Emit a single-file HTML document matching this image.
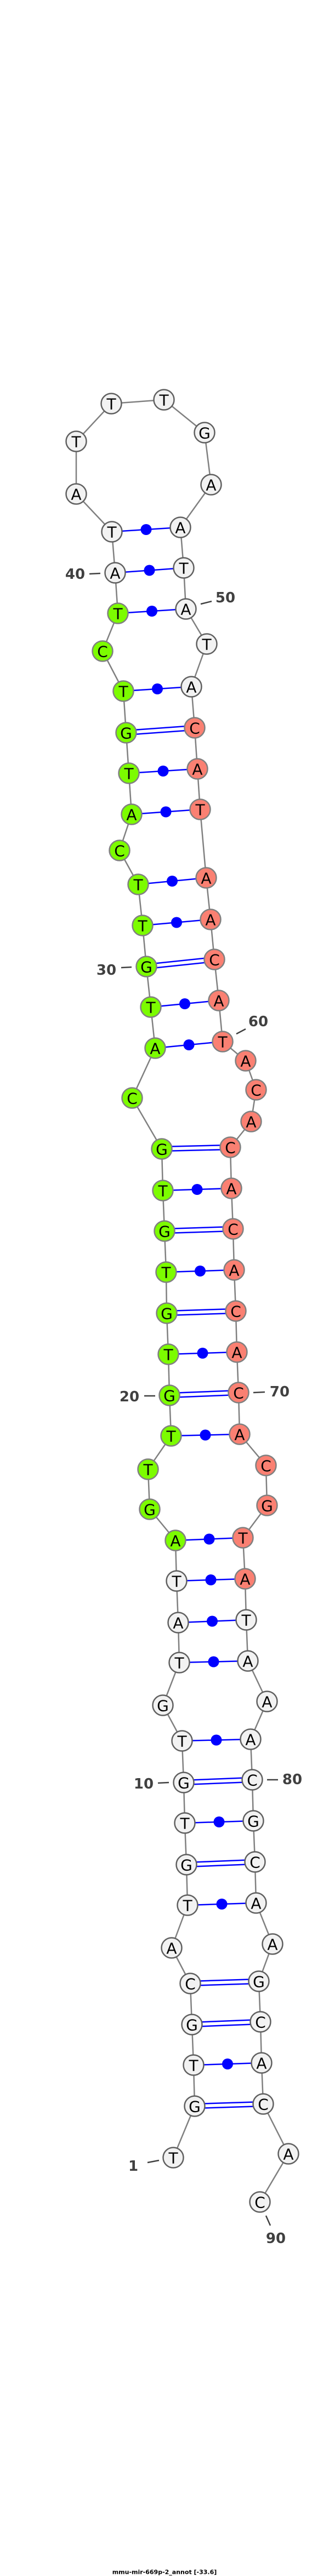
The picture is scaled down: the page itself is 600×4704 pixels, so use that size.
<!DOCTYPE html>
<html><head><meta charset="utf-8"><style>
html,body{margin:0;padding:0;background:#fff}
svg{display:block}
.n{font-family:"DejaVu Sans","Liberation Sans",sans-serif;font-size:28px;text-anchor:middle;dominant-baseline:central}
.l{font-family:"DejaVu Sans","Liberation Sans",sans-serif;font-size:26px;font-weight:bold;fill:#404040;text-anchor:middle;dominant-baseline:central}
</style></head><body>
<svg id="s" width="600" height="4704" xmlns="http://www.w3.org/2000/svg">
<g id="bb" stroke="#808080" stroke-width="2.5" fill="none"></g>
<g id="pr"></g>
<g id="nd"></g>
<g stroke="#404040" stroke-width="2.5">
<line x1="269" y1="3949" x2="290" y2="3945"/>
<line x1="288" y1="3256" x2="308" y2="3255"/>
<line x1="263" y1="2549" x2="283" y2="2549"/>
<line x1="221" y1="1767" x2="240" y2="1766"/>
<line x1="163" y1="1048" x2="183" y2="1047"/>
<line x1="366" y1="1103" x2="386" y2="1098"/>
<line x1="431" y1="1888" x2="448" y2="1879"/>
<line x1="462" y1="2543" x2="483" y2="2542"/>
<line x1="487" y1="3250" x2="507" y2="3250"/>
<line x1="485" y1="4046" x2="493" y2="4064"/>
</g>
<text class="l" x="243" y="3956">1</text>
<text class="l" x="262" y="3258">10</text>
<text class="l" x="236" y="2551">20</text>
<text class="l" x="194" y="1772">30</text>
<text class="l" x="137" y="1049">40</text>
<text class="l" x="411" y="1092">50</text>
<text class="l" x="471" y="1866">60</text>
<text class="l" x="510" y="2542">70</text>
<text class="l" x="533" y="3250">80</text>
<text class="l" x="503" y="4088">90</text>
<text x="300" y="4697" style="font-family:'DejaVu Sans','Liberation Sans',sans-serif;font-size:11px;font-weight:bold;text-anchor:middle;dominant-baseline:central">mmu-mir-669p-2_annot [-33.6]</text>
</svg>
<script>
var P=[null,[316,3940,'T'],[355,3846,'G'],[353,3771,'T'],[350,3697,'G'],[347,3622,'C'],[313,3557,'A'],[342,3479,'T'],[340,3405,'G'],[337,3329,'T'],[335,3255,'G'],
[332,3179,'T'],[297,3114,'G'],[327,3036,'T'],[325,2963,'A'],[322,2887,'T'],[320,2813,'A'],[273,2756,'G'],[270,2683,'T'],[312,2622,'T'],[309,2548,'G'],
[307,2473,'T'],[304,2398,'G'],[303,2323,'T'],[300,2248,'G'],[297,2174,'T'],[295,2098,'G'],[241,2005,'C'],[283,1914,'A'],[275,1839,'T'],[267,1765,'G'],
[260,1690,'T'],[252,1615,'T'],[218,1553,'C'],[240,1487,'A'],[235,1412,'T'],[230,1338,'G'],[225,1262,'T'],[187,1189,'C'],[215,1120,'T'],[210,1046,'A'],
[204,971,'T'],[139,902,'A'],[139,806,'T'],[203,737,'T'],[299,730,'T'],[373,790,'G'],[385,885,'A'],[329,963,'A'],[335,1037,'T'],[339,1112,'A'],
[377,1176,'T'],[349,1254,'A'],[355,1329,'C'],[360,1404,'A'],[365,1478,'T'],[376,1603,'A'],[384,1679,'A'],[391,1752,'C'],[399,1827,'A'],[406,1902,'T'],
[448,1937,'A'],[467,1990,'C'],[458,2048,'A'],[420,2095,'C'],[422,2170,'A'],[425,2244,'C'],[427,2319,'A'],[430,2394,'C'],[432,2469,'A'],[435,2543,'C'],
[437,2619,'A'],[485,2676,'C'],[487,2749,'G'],[443,2808,'T'],[447,2883,'A'],[449,2958,'T'],[452,3033,'A'],[487,3107,'A'],[457,3176,'A'],[460,3250,'C'],
[462,3325,'G'],[465,3400,'C'],[467,3475,'A'],[497,3550,'A'],[472,3618,'G'],[475,3692,'C'],[477,3767,'A'],[480,3842,'C'],[526,3933,'A'],[474,4021,'C']];
var pairs=[[41,48],[40,49],[39,50],[37,52],[36,53],[35,54],[34,55],[32,56],[31,57],[30,58],[29,59],[28,60],[26,64],[25,65],[24,66],[23,67],[22,68],[21,69],[20,70],[19,71],[16,74],[15,75],[14,76],[13,77],[11,79],[10,80],[9,81],[8,82],[7,83],[5,85],[4,86],[3,87],[2,88]];
var NS='http://www.w3.org/2000/svg';
function el(t,a,p){var e=document.createElementNS(NS,t);for(var k in a)e.setAttribute(k,a[k]);p.appendChild(e);return e;}
var bb=document.getElementById('bb'),pr=document.getElementById('pr'),nd=document.getElementById('nd');
for(var i=1;i<90;i++)el('line',{x1:P[i][0],y1:P[i][1],x2:P[i+1][0],y2:P[i+1][1]},bb);
pairs.forEach(function(p){var a=P[p[0]],b=P[p[1]];var gc=(a[2]=='G'&&b[2]=='C')||(a[2]=='C'&&b[2]=='G');
 if(gc){var dx=b[0]-a[0],dy=b[1]-a[1],L=Math.sqrt(dx*dx+dy*dy),nx=-dy/L*4,ny=dx/L*4;
  [1,-1].forEach(function(s){el('line',{x1:a[0]+nx*s,y1:a[1]+ny*s,x2:b[0]+nx*s,y2:b[1]+ny*s,stroke:'#0000ff','stroke-width':2.5},pr);});}
 else{el('line',{x1:a[0],y1:a[1],x2:b[0],y2:b[1],stroke:'#0000ff','stroke-width':2.5},pr);
  el('circle',{cx:(a[0]+b[0])/2,cy:(a[1]+b[1])/2,r:10,fill:'#0000ff'},pr);}});
for(var i=1;i<=90;i++){var f='#f2f2f2',s='#606060';if(i>=16&&i<=39){f='#7cfc00';s='#808080';}if(i>=53&&i<=75){f='#fa8072';s='#808080';}
 el('circle',{cx:P[i][0],cy:P[i][1],r:18.5,fill:f,stroke:s,'stroke-width':2.5},nd);
 var t=el('text',{x:P[i][0],y:P[i][1]+1,'class':'n'},nd);t.textContent=P[i][2];}
</script>
</body></html>
